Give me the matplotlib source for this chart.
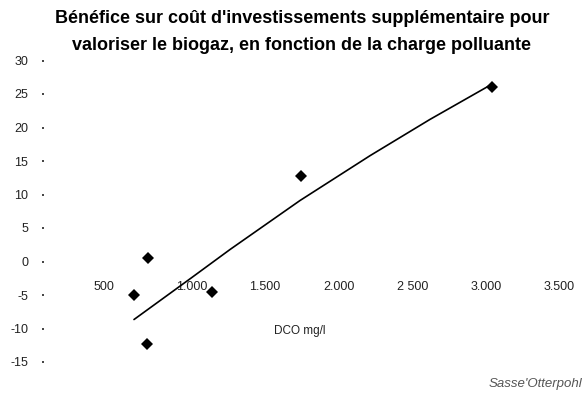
import matplotlib
matplotlib.use("Agg")
import matplotlib.pyplot as plt
import matplotlib.transforms as mtransforms

plt.rcParams['font.family'] = ['Liberation Sans', 'DejaVu Sans']

# Data points (DCO mg/l, benefit)
dco = [613, 704, 699, 1143, 1743, 3040]
benefit = [-4.97, 0.49, -12.28, -4.58, 12.69, 26.0]

# Trend line
trend_x = [611, 1000, 1263, 1738, 2214, 2620, 3028]
trend_y = [-8.66, -2.45, 1.79, 9.10, 15.8, 21.2, 26.3]

x_ticks = [500, 1000, 1500, 2000, 2500, 3000, 3500]
x_tick_labels = ["500", "1.000", "1.500", "2.000", "2 500", "3.000", "3.500"]
y_ticks = [-15, -10, -5, 0, 5, 10, 15, 20, 25, 30]
y_tick_labels = ["-15", "-10", "-5", "0", "5", "10", "15", "20", "25", "30"]

title = ("Bénéfice sur coût d'investissements supplémentaire pour\n"
         "valoriser le biogaz, en fonction de la charge polluante")
x_label = "DCO mg/l"
source = "Sasse'Otterpohl"

W, H = 584, 403
fig = plt.figure(figsize=(W / 100, H / 100), dpi=100)
left, right, top, bottom = 44, 559.5, 60.5, 362
ax = fig.add_axes([left / W, 1 - bottom / H, (right - left) / W, (bottom - top) / H])

ax.plot(trend_x, trend_y, color='black', lw=1.2, solid_capstyle='round')
ax.plot(dco, benefit, linestyle='none', marker='D', markersize=6,
        color='black', markeredgewidth=0)

ax.set_xlim(0, 3500)
ax.set_ylim(-15, 30)

for s in ['top', 'right', 'left']:
    ax.spines[s].set_visible(False)
ax.spines['bottom'].set_position(('data', 0))
ax.spines['bottom'].set_visible(False)

ax.set_xticks(x_ticks)
ax.set_xticklabels(x_tick_labels)
ax.set_yticks(y_ticks)
ax.set_yticklabels(y_tick_labels)
ax.tick_params(axis='x', length=0, pad=14, labelsize=9, colors='#222222')
ax.tick_params(axis='y', length=1.5, width=1.2, pad=10, labelsize=9, colors='#222222')

# the first x label sits slightly left in the original
first = ax.get_xticklabels()[0]
first.set_transform(first.get_transform() +
                    mtransforms.ScaledTranslation(-14 / 100, 0, fig.dpi_scale_trans))

ax.set_xlabel(x_label, fontsize=8.5, color='#222222')
ax.xaxis.set_label_coords((300 - left) / (right - left), (bottom - 325) / (bottom - top))

fig.text(302 / W, 1 - 32 / H, title, ha='center', va='center',
         fontsize=13, fontweight='bold', linespacing=1.8)
fig.text(582 / W, 1 - 384 / H, source, ha='right', va='center',
         fontsize=9.5, style='italic', color='#555555')

fig.savefig("out.png", dpi=100)
